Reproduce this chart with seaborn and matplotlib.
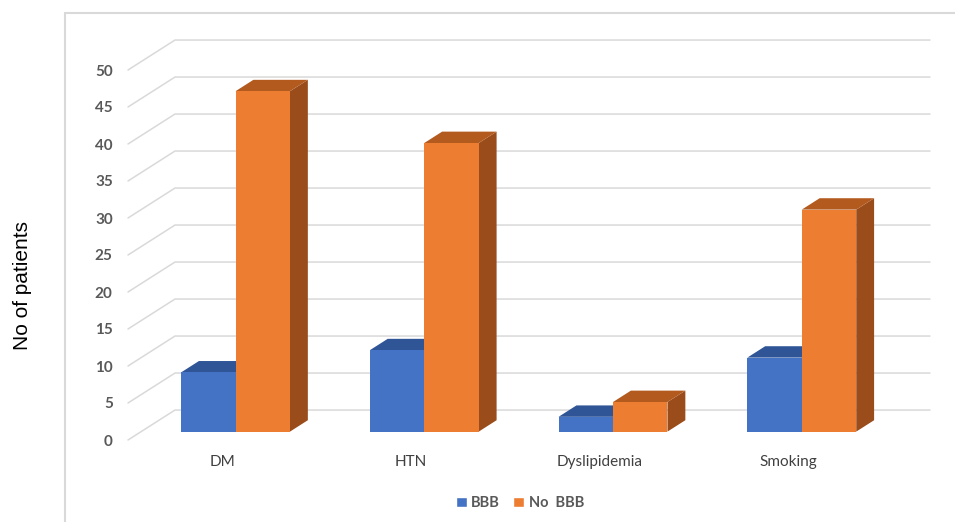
import pandas as pd
import matplotlib
matplotlib.use('Agg')
import matplotlib.pyplot as plt
import matplotlib.transforms as mtransforms
from matplotlib.patches import Patch, Polygon, Rectangle
import seaborn as sns

# data
factors = ['DM', 'HTN', 'Dyslipidemia', 'Smoking']
groups = ['BBB', 'No  BBB']
bbb = [8, 11, 2, 10]
no_bbb = [46, 39, 4, 30]
y_ticks = list(range(0, 51, 5))

front_colors = {'BBB': '#4472C4', 'No  BBB': '#ED7D31'}
top_colors = {'BBB': '#2F5597', 'No  BBB': '#B35A1F'}
side_colors = {'BBB': '#2A4C88', 'No  BBB': '#9A4C1B'}

df = pd.DataFrame({
    'factor': factors * 2,
    'count': bbb + no_bbb,
    'group': [groups[0]] * len(factors) + [groups[1]] * len(factors),
})

sns.set_style('white')
plt.rcParams['font.family'] = ['Lato', 'DejaVu Sans']

fig = plt.figure(figsize=(9.55, 5.22), dpi=100)
ax = fig.add_axes([128 / 955, 82 / 522, 755 / 955, 370 / 522])

# depth of the fake 3D box (data units) and where bars sit inside it
ddx, ddy = 0.249, 4.05
f_front, f_depth = 0.28, 0.38

sns.barplot(data=df, x='factor', y='count', hue='group', order=factors,
            hue_order=groups, palette=front_colors, saturation=1,
            width=0.577, ax=ax, legend=False)

ax.set_xlim(-0.5, len(factors) - 0.5)
ax.set_ylim(0, 50)

# back wall grid lines with diagonal floor/side edges
x0, x1 = ax.get_xlim()
for v in y_ticks:
    ax.plot([x0, x0 + ddx, x1 + ddx], [v, v + ddy, v + ddy],
            color='#D9D9D9', lw=1.1, zorder=0, clip_on=False)

shift = mtransforms.Affine2D().translate(f_front * ddx, f_front * ddy) + ax.transData
bdx, bdy = f_depth * ddx, f_depth * ddy
bars = list(ax.patches)
for i, bar in enumerate(bars):
    grp = groups[i // len(factors)]
    bar.set_transform(shift)
    bar.set_clip_on(False)
    bar.set_zorder(3)
    bar.set_edgecolor('none')
    x, w, h = bar.get_x(), bar.get_width(), bar.get_height()
    side = Polygon([(x + w, 0), (x + w + bdx, bdy), (x + w + bdx, h + bdy), (x + w, h)],
                   closed=True, facecolor=side_colors[grp], edgecolor='none',
                   transform=shift, zorder=2, clip_on=False)
    top = Polygon([(x, h), (x + w, h), (x + w + bdx, h + bdy), (x + bdx, h + bdy)],
                  closed=True, facecolor=top_colors[grp], edgecolor='none',
                  transform=shift, zorder=2, clip_on=False)
    ax.add_patch(side)
    ax.add_patch(top)

for s in ax.spines.values():
    s.set_visible(False)
ax.set_yticks(y_ticks)
ax.set_yticklabels([str(v) for v in y_ticks], fontweight='bold', fontsize=11, color='#595959')
ax.tick_params(axis='y', length=0, pad=11)
ax.tick_params(axis='x', length=0, pad=11, labelsize=11, labelcolor='#404040')
ax.set_xlabel('')
ax.set_ylabel('')
ax.grid(False)

fig.text(22 / 955, 1 - 285 / 522, 'No of patients', rotation=90, ha='center', va='center',
         fontsize=15, family=['Liberation Sans', 'DejaVu Sans'], color='black')

# chart area border (left and top edges visible)
fig.add_artist(Rectangle((64.5 / 955, -0.05), 1.0, 1 - 12.5 / 522 + 0.05,
                         transform=fig.transFigure, fill=False,
                         edgecolor='#D9D9D9', lw=1.5))

handles = [Patch(facecolor=front_colors[g], label=g) for g in groups]
leg = fig.legend(handles=handles, loc='center', bbox_to_anchor=(520 / 955, 19 / 522),
                 ncol=2, frameon=False, handlelength=0.75, handleheight=0.75,
                 handletextpad=0.3, columnspacing=0.9, fontsize=10.5)
for t in leg.get_texts():
    t.set_color('#595959')
    t.set_fontweight('bold')

fig.savefig('out.png', dpi=100)
plt.close(fig)
